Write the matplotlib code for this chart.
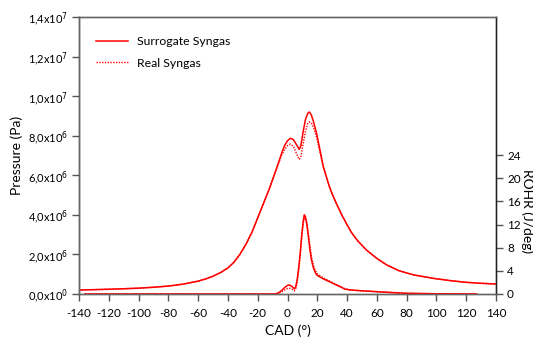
import numpy as np
import matplotlib
matplotlib.use('Agg')
import matplotlib.pyplot as plt
from matplotlib.ticker import FixedLocator

plt.rcParams['font.family'] = ['Lato', 'DejaVu Sans']
plt.rcParams['axes.unicode_minus'] = False

# pressure (Pa) vs crank angle (deg)
cad_p = [-140, -130, -120, -110, -100, -90, -80, -70, -60, -55, -50, -45, -40, -36, -32, -28, -24,
         -20, -16, -12, -9, -6, -4, -2, 0, 2, 4, 6, 7.9, 9, 10.5, 12, 13.5, 14.6, 16, 17.5, 19.6,
         22, 24, 26, 28, 30, 33, 36.4, 40, 43, 47, 53, 60, 66.6, 75, 85, 98, 110, 120, 130, 140]
p_surr = [2.0e5, 2.2e5, 2.4e5, 2.65e5, 2.95e5, 3.4e5, 4.0e5, 5.0e5, 6.5e5, 7.6e5, 9.0e5, 1.08e6,
          1.32e6, 1.6e6, 2.0e6, 2.5e6, 3.1e6, 3.85e6, 4.6e6, 5.35e6, 6.0e6, 6.65e6, 7.1e6, 7.5e6,
          7.75e6, 7.87e6, 7.8e6, 7.55e6, 7.31e6, 7.5e6, 8.2e6, 8.8e6, 9.12e6, 9.2e6, 9.05e6, 8.7e6,
          8.1e6, 7.2e6, 6.45e6, 5.95e6, 5.45e6, 5.05e6, 4.55e6, 4.0e6, 3.5e6, 3.1e6, 2.7e6, 2.22e6,
          1.8e6, 1.47e6, 1.17e6, 9.6e5, 7.9e5, 6.7e5, 5.9e5, 5.4e5, 5.05e5]
p_real = [2.0e5, 2.2e5, 2.4e5, 2.65e5, 2.95e5, 3.4e5, 4.0e5, 5.0e5, 6.5e5, 7.6e5, 9.0e5, 1.08e6,
          1.32e6, 1.6e6, 2.0e6, 2.5e6, 3.1e6, 3.85e6, 4.6e6, 5.35e6, 6.0e6, 6.6e6, 7.0e6, 7.3e6,
          7.5e6, 7.58e6, 7.45e6, 7.1e6, 6.8e6, 6.95e6, 7.6e6, 8.2e6, 8.6e6, 8.7e6, 8.65e6, 8.4e6,
          7.9e6, 7.1e6, 6.42e6, 5.95e6, 5.45e6, 5.05e6, 4.55e6, 4.0e6, 3.5e6, 3.1e6, 2.7e6, 2.22e6,
          1.8e6, 1.47e6, 1.17e6, 9.6e5, 7.9e5, 6.7e5, 5.9e5, 5.4e5, 5.05e5]

# rate of heat release (J/deg)
cad_r_surr = [-136, -8.4, -6, -4, -2, 0, 1.5, 3, 4.6, 5.5, 6.5, 7.5, 8.5, 9.5, 10.5, 11.3, 12, 13,
              14, 15, 16, 17.3, 18.5, 19.6, 22, 25, 30, 35, 38.6, 42, 50, 60, 70, 80, 100, 127]
r_surr = [0, 0, 0.2, 0.6, 1.1, 1.5, 1.55, 1.3, 0.9, 1.2, 2.5, 4.5, 7.0, 10.0, 12.5, 13.7, 13.4,
          12.0, 10.0, 7.8, 6.0, 4.6, 3.8, 3.3, 2.9, 2.5, 1.9, 1.3, 0.85, 0.7, 0.55, 0.4, 0.25, 0.12,
          0.04, 0.0]
cad_r_real = [-136, -8.4, -6, -4, -2, 0, 1.5, 3, 4.6, 5.5, 6.5, 7.5, 8.5, 9.5, 10.5, 11.5, 12.3,
              13.3, 14.3, 15.3, 16.3, 17.6, 18.8, 20, 22, 25, 30, 35, 38.6, 42, 50, 60, 70, 80, 100, 127]
r_real = [0, 0, 0.1, 0.35, 0.7, 0.95, 1.0, 0.85, 0.55, 0.9, 2.0, 4.0, 6.5, 9.5, 12.1, 13.3, 13.1,
          11.8, 9.9, 7.9, 6.2, 4.8, 4.0, 3.5, 3.1, 2.65, 2.0, 1.35, 0.9, 0.7, 0.55, 0.4, 0.25, 0.12,
          0.04, 0.0]

p_ticks = [0, 2e6, 4e6, 6e6, 8e6, 1e7, 1.2e7, 1.4e7]
p_labels = [r'0,0x10$^{0}$', r'2,0x10$^{6}$', r'4,0x10$^{6}$', r'6,0x10$^{6}$', r'8,0x10$^{6}$',
            r'1,0x10$^{7}$', r'1,2x10$^{7}$', r'1,4x10$^{7}$']
r_ticks = [0, 4, 8, 12, 16, 20, 24]
x_ticks = list(range(-140, 141, 20))

red = '#ff0000'

fig = plt.figure(figsize=(5.33, 3.4), dpi=100)
ax = fig.add_axes([0.1482, 0.1353, 0.7824, 0.8147])
ax2 = ax.twinx()

ax.plot(cad_p, p_surr, color=red, lw=1.1, label='Surrogate Syngas')
ax.plot(cad_p, p_real, color=red, lw=1.0, ls=(0, (1, 1)), label='Real Syngas')
ax2.plot(cad_r_surr, r_surr, color=red, lw=1.1)
ax2.plot(cad_r_real, r_real, color=red, lw=1.0, ls=(0, (1, 1)))

ax.set_xlim(-140, 140)
ax.set_ylim(0, 1.4e7)
ax2.set_ylim(0, 47.9)

ax.set_xticks(x_ticks)
ax.set_yticks(p_ticks)
ax.set_yticklabels(p_labels)
ax2.yaxis.set_major_locator(FixedLocator(r_ticks))

for a in (ax, ax2):
    a.tick_params(direction='out', length=5, width=1, color='#555555', labelsize=8.5, pad=3)
    for s in a.spines.values():
        s.set_color('#666666')
        s.set_linewidth(1.0)
ax.tick_params(axis='x', pad=5)
ax.tick_params(axis='y', labelsize=8)
ax.spines['left'].set_color('#333333')
ax2.spines['right'].set_color('#222222')

ax.set_xlabel('CAD (°)', fontsize=10, labelpad=4)
ax.set_ylabel('Pressure (Pa)', fontsize=10, labelpad=3)
ax2.set_ylabel('ROHR (J/deg)', fontsize=10, rotation=270, va='center', ha='center')
ax2.yaxis.set_label_coords(1.074, 0.3)

ax.legend(loc='upper left', bbox_to_anchor=(0.015, 0.97), frameon=False, fontsize=8.8,
          handlelength=2.6, handletextpad=0.7, labelspacing=0.85)

fig.savefig('out.png', dpi=100)
